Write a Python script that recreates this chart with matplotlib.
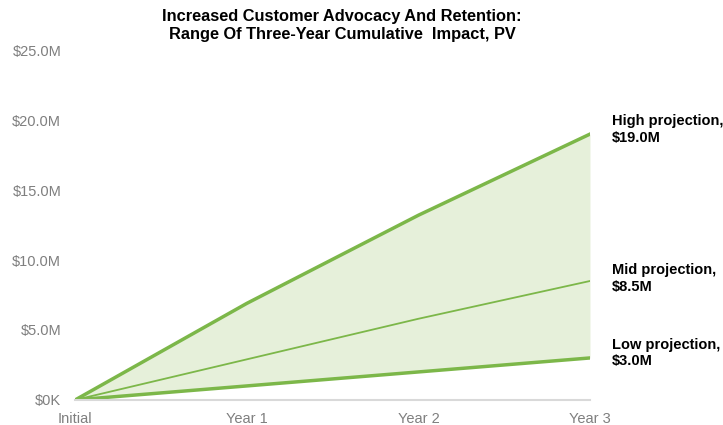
import matplotlib.pyplot as plt
from matplotlib.ticker import FuncFormatter

plt.rcParams['font.family'] = ['Liberation Sans', 'DejaVu Sans']

# Data (in $M)
periods = ['Initial', 'Year 1', 'Year 2', 'Year 3']
high = [0, 6.9, 13.2, 19.0]
mid = [0, 2.9, 5.8, 8.5]
low = [0, 1.0, 2.0, 3.0]
end_labels = ['High projection,\n$19.0M', 'Mid projection,\n$8.5M', 'Low projection,\n$3.0M']

green = '#7cb749'
fill = '#e6f0da'

fig = plt.figure(figsize=(7.23, 4.25), dpi=100)
ax = fig.add_axes([0.104, 0.059, 0.712, 0.823])

x = list(range(len(periods)))
ax.fill_between(x, low, high, color=fill, linewidth=0)
ax.plot(x, high, color=green, linewidth=2.5)
ax.plot(x, mid, color=green, linewidth=1.3)
ax.plot(x, low, color=green, linewidth=2.5)

ax.set_xlim(0, 3)
ax.set_ylim(0, 25)
ax.set_xticks(x)
ax.set_xticklabels(periods)
ax.set_yticks([0, 5, 10, 15, 20, 25])
ax.yaxis.set_major_formatter(FuncFormatter(lambda v, p: '$0K' if v == 0 else f'${v:.1f}M'))
ax.tick_params(axis='both', length=0, labelsize=10.5, colors='#7f7f7f')
ax.tick_params(axis='y', pad=10)
ax.tick_params(axis='x', pad=9)

for s in ['top', 'right', 'left']:
    ax.spines[s].set_visible(False)
ax.spines['bottom'].set_color('#d9d9d9')
ax.spines['bottom'].set_linewidth(1.5)

# labels at the end of each line, nudged a bit above the point
offsets = [0.35, 0.2, 0.35]
for series, lab, off in zip([high, mid, low], end_labels, offsets):
    ax.annotate(lab, xy=(3, series[-1] + off), xytext=(16, 0), textcoords='offset points',
                ha='left', va='center', fontsize=10.5, fontweight='bold', color='black',
                annotation_clip=False, linespacing=1.25)

fig.text(0.473, 0.978, 'Increased Customer Advocacy And Retention:\nRange Of Three-Year Cumulative  Impact, PV',
         ha='center', va='top', fontsize=11.8, fontweight='bold', linespacing=1.2)

fig.savefig('out.png', dpi=100)
